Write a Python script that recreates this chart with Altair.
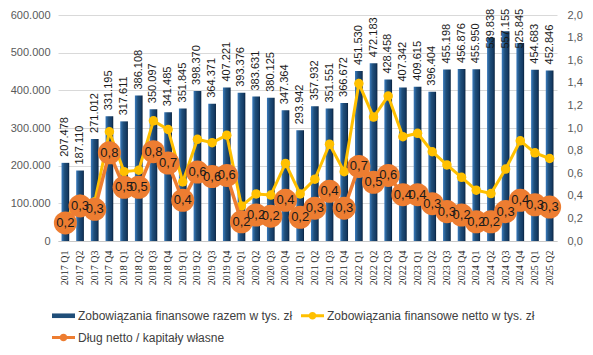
import altair as alt
import pandas as pd

quarters = ["2017 Q1", "2017 Q2", "2017 Q3", "2017 Q4",
            "2018 Q1", "2018 Q2", "2018 Q3", "2018 Q4",
            "2019 Q1", "2019 Q2", "2019 Q3", "2019 Q4",
            "2020 Q1", "2020 Q2", "2020 Q3", "2020 Q4",
            "2021 Q1", "2021 Q2", "2021 Q3", "2021 Q4",
            "2022 Q1", "2022 Q2", "2022 Q3", "2022 Q4",
            "2023 Q1", "2023 Q2", "2023 Q3", "2023 Q4",
            "2024 Q1", "2024 Q2", "2024 Q3", "2024 Q4",
            "2025 Q1", "2025 Q2"]

razem = [207478, 187110, 271012, 331195,
         317611, 386108, 350097, 341485,
         351845, 398370, 364371, 407221,
         393376, 383631, 380125, 347364,
         293942, 357932, 351551, 366672,
         451530, 472183, 428458, 407342,
         409615, 396404, 455198, 456876,
         455950, 539838, 557155, 525845,
         454683, 452846]

netto = [60000, 110000, 104000, 290000,
         184000, 188000, 319000, 296000,
         157000, 270000, 261000, 281000,
         93000, 125000, 122000, 206000,
         125000, 164000, 257000, 184000,
         418000, 329000, 385000, 277000,
         286000, 237000, 202000, 169000,
         135000, 126000, 191000, 266000,
         234000, 219000]

dlug = [0.16, 0.31, 0.28, 0.78,
        0.475, 0.475, 0.79, 0.69,
        0.36, 0.61, 0.57, 0.58,
        0.17, 0.23, 0.22, 0.36,
        0.21, 0.29, 0.44, 0.29,
        0.66, 0.52, 0.58, 0.41,
        0.41, 0.33, 0.26, 0.23,
        0.17, 0.17, 0.26, 0.36,
        0.32, 0.30]

# legend entries (ordered so that the 2-column grid reads:
# row 1: razem, netto ; row 2: Dług)
series_names = ["Zobowiązania finansowe razem w tys. zł",
                "Dług netto / kapitały własne",
                "Zobowiązania finansowe netto w tys. zł"]
series_colors = ["#1F4E79", "#ED7D31", "#FFC000"]

left_ticks = [0, 100000, 200000, 300000, 400000, 500000, 600000]
right_ticks = [0, 0.2, 0.4, 0.6, 0.8, 1.0, 1.2, 1.4, 1.6, 1.8, 2.0]

df = pd.DataFrame({"q": quarters, "razem": razem, "netto": netto, "dlug": dlug})
legend_df = pd.DataFrame({"s": series_names})

SANS = "Liberation Sans"
SERIF = "Liberation Serif"

base = alt.Chart(df).transform_calculate(
    lab_r="replace(format(datum.razem, ',d'), ',', '.')",
    lab_d="replace(format(datum.dlug, '.1f'), '.', ',')",
    lab_pos="min(datum.razem, 495000)",
)

x_enc = alt.X(
    "q:N", sort=quarters, title=None,
    scale=alt.Scale(paddingInner=0.475, paddingOuter=0.24),
    axis=alt.Axis(labelAngle=270, labelFont=SERIF, labelFontSize=10,
                  labelColor="#262626", ticks=False, labelPadding=9,
                  domainColor="#c8c8c8", grid=False),
)

left_axis = alt.Axis(values=left_ticks, labelExpr="replace(format(datum.value, ',d'), ',', '.')",
                     labelFont=SANS, labelFontSize=11, labelColor="#595959",
                     ticks=False, domain=False, grid=True, gridColor="#d9d9d9",
                     labelPadding=8, title=None)
left_scale = alt.Scale(domain=[0, 600000], nice=False)

right_axis = alt.Axis(values=right_ticks, orient="right",
                      labelExpr="replace(format(datum.value, '.1f'), '.', ',')",
                      labelFont=SANS, labelFontSize=11, labelColor="#595959",
                      ticks=False, domain=False, grid=False, labelPadding=10, title=None)
right_scale = alt.Scale(domain=[0, 2.0], nice=False)

bar_grad = alt.Gradient(
    gradient="linear",
    stops=[alt.GradientStop(color="#3a7bbd", offset=0),
           alt.GradientStop(color="#1f4e79", offset=0.4),
           alt.GradientStop(color="#143a63", offset=0.8),
           alt.GradientStop(color="#08203a", offset=1)],
    x1=0, x2=1, y1=0, y2=0,
)

bars = base.mark_bar(color=bar_grad).encode(
    x=x_enc,
    y=alt.Y("razem:Q", scale=left_scale, axis=left_axis),
)

bar_labels = base.mark_text(angle=270, align="left", baseline="middle", dx=6,
                            font=SANS, fontSize=11, color="#1a1a1a").encode(
    x=x_enc,
    y=alt.Y("lab_pos:Q", scale=left_scale, axis=left_axis),
    text="lab_r:N",
)

netto_line = base.mark_line(color="#FFC000", strokeWidth=3).encode(
    x=x_enc,
    y=alt.Y("netto:Q", scale=left_scale, axis=left_axis),
)
netto_pts = base.mark_point(filled=True, color="#FFC000", size=90, opacity=1).encode(
    x=x_enc,
    y=alt.Y("netto:Q", scale=left_scale, axis=left_axis),
)

left_group = alt.layer(bars, bar_labels, netto_line, netto_pts)

dlug_line = base.mark_line(color="#ED7D31", strokeWidth=3.5).encode(
    x=x_enc,
    y=alt.Y("dlug:Q", scale=right_scale, axis=right_axis),
)
dlug_pts = base.mark_point(filled=True, color="#ED7D31", size=530, opacity=1).encode(
    x=x_enc,
    y=alt.Y("dlug:Q", scale=right_scale, axis=right_axis),
)
dlug_labels = base.mark_text(align="center", baseline="middle", font=SANS,
                             fontSize=13, color="#1a1a1a").encode(
    x=x_enc,
    y=alt.Y("dlug:Q", scale=right_scale, axis=right_axis),
    text="lab_d:N",
)

right_group = alt.layer(dlug_line, dlug_pts, dlug_labels)

rect_path = "M-1,-0.2 H1 V0.2 H-1 Z"
lc_path = ("M-1,-0.12 H1 V0.12 H-1 Z "
           "M0.33,0 A0.33,0.33 0 1,1 -0.33,0 A0.33,0.33 0 1,1 0.33,0 Z")

leg = alt.Legend(title=None, orient="none", legendX=-6, legendY=289, columns=2,
                 symbolSize=529, labelFont=SANS, labelFontSize=12, labelColor="#404040",
                 columnPadding=8, rowPadding=4, labelOffset=3, padding=0,
                 labelLimit=400, symbolStrokeWidth=0)

legend_layer = alt.Chart(legend_df).transform_filter("false").mark_point(
    filled=True, opacity=1).encode(
    color=alt.Color("s:N", scale=alt.Scale(domain=series_names, range=series_colors), legend=leg),
    shape=alt.Shape("s:N", scale=alt.Scale(domain=series_names, range=[rect_path, lc_path, lc_path]),
                    legend=leg),
)

chart = alt.layer(left_group, right_group, legend_layer).resolve_scale(
    y="independent"
).properties(
    width=499, height=226,
    autosize=alt.AutoSizeParams(type="none"),
    padding={"left": 50, "top": 7, "right": 28, "bottom": 106},
    background="white",
).configure_view(stroke=None)

chart.save("out.html", embed_options={"renderer": "svg", "actions": False})
